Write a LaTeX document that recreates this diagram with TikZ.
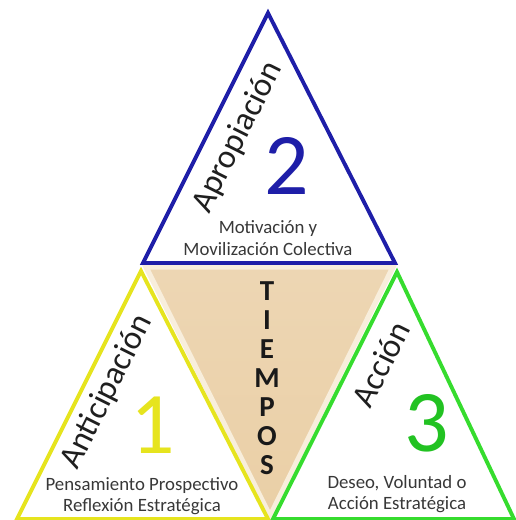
\documentclass[tikz,border=0pt]{standalone}
\usepackage{fontspec}
\setmainfont{Carlito}
\definecolor{azul}{HTML}{1E1EA8}
\definecolor{amarillo}{HTML}{E6E41E}
\definecolor{verde}{HTML}{36DC2E}
\definecolor{verdeNum}{HTML}{22C222}
\definecolor{arena}{HTML}{EACFA6}
\definecolor{arenaClara}{HTML}{F8EEDC}
\tikzset{every picture/.style={line width=2.2pt},
        triSide/.style={line join=miter, fill=white},
        tiempoLetter/.style={font=\bfseries\fontsize{16.5}{16.5}\selectfont, text=black!90, inner sep=1pt},
        stageWord/.style={rotate=63.4, font=\fontsize{19}{19}\selectfont, text=black!88, inner sep=0pt},
        stageNum/.style={font=\fontsize{50}{50}\selectfont, inner sep=0pt},
        stageText/.style={align=center, font=\fontsize{10.7}{12.2}\selectfont, text=black!78, inner sep=1pt}}

\begin{document}
\begin{tikzpicture}[x=0.02cm, y=-0.02cm]

\useasboundingbox (0,0) rectangle (515,520);

% corners of the four triangles
\coordinate (a-top) at (268,13);
\coordinate (a-left) at (143,263);
\coordinate (a-right) at (395,263);
\coordinate (b-top) at (141,271);
\coordinate (b-left) at (17,519);
\coordinate (b-right) at (268,519);
\coordinate (c-top) at (397,272);
\coordinate (c-left) at (273,519);
\coordinate (c-right) at (514,519);
\coordinate (t-left) at (146,267);
\coordinate (t-right) at (393,267);
\coordinate (t-bottom) at (270,516);

% draw middle triangle
\shadedraw[top color=arena!85, bottom color=arena, draw=arenaClara, line width=3pt, line join=miter]
    (t-left) -- (t-right) -- (t-bottom) -- cycle;

% draw outer triangles
\draw[triSide, draw=azul] (a-top) -- (a-left) -- (a-right) -- cycle;
\draw[triSide, draw=amarillo] (b-top) -- (b-left) -- (b-right) -- cycle;
\draw[triSide, draw=verde] (c-top) -- (c-left) -- (c-right) -- cycle;

% letters of TIEMPOS
\foreach \l [count=\i] in {T,I,E,M,P,O,S} {
    \node[tiempoLetter] (t-\i) at (267, {291+29*(\i-1)}) {\l};
}

% draw texts of the triangles
\node[stageWord] (w-apro) at (238,137) {Apropiación};
\node[stageNum, text=azul] (n-2) at (287,166) {2};
\node[stageText] (s-2) at (268,238) {Motivación y\\Movilización Colectiva};

\node[stageWord] (w-anti) at (107,392) {Anticipación};
\node[stageNum, text=amarillo] (n-1) at (153,425) {1};
\node[stageText] (s-1) at (142,496) {Pensamiento Prospectivo\\Reflexión Estratégica};

\node[stageWord] (w-acc) at (381,364) {Acción};
\node[stageNum, text=verdeNum] (n-3) at (427,423) {3};
\node[stageText] (s-3) at (397,494) {Deseo, Voluntad o\\Acción Estratégica};

\end{tikzpicture}
\end{document}
